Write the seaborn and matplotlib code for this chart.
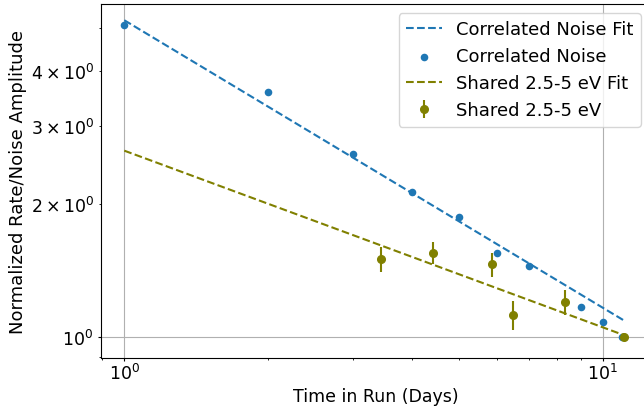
import numpy as np
import pandas as pd
import matplotlib
matplotlib.use("Agg")
import matplotlib.pyplot as plt
import seaborn as sns

# ---- data ----
noise_days = [1.0, 2.0, 3.0, 4.0, 5.0, 6.0, 7.0, 9.0, 10.0, 10.97]
noise_amp = [5.08, 3.58, 2.59, 2.13, 1.87, 1.55, 1.45, 1.17, 1.08, 1.00]

shared_days = [3.43, 4.42, 5.86, 6.49, 8.34, 11.07]
shared_rate = [1.50, 1.55, 1.46, 1.123, 1.20, 1.00]
shared_err = [0.10, 0.09, 0.09, 0.085, 0.077, 0.02]

# power-law fit parameters  y = A * x**b
noise_fit_A, noise_fit_b = 5.21, -0.651
shared_fit_A, shared_fit_b = 2.64, -0.40

labels = ["Correlated Noise Fit", "Correlated Noise",
          "Shared 2.5-5 eV Fit", "Shared 2.5-5 eV"]
blue = "#1f77b4"
olive = "#808000"

plt.rcParams["font.size"] = 13
plt.rcParams["font.family"] = ["DejaVu Sans"]

fig = plt.figure(figsize=(6.44, 4.10), dpi=100)
ax = fig.add_axes([101 / 644, 1 - 359 / 410, (650 - 101) / 644, (359 - 5) / 410])

fit_x = np.array([min(noise_days), max(shared_days)])
fit_df = pd.DataFrame({
    "x": fit_x,
    "noise": noise_fit_A * fit_x ** noise_fit_b,
    "shared": shared_fit_A * fit_x ** shared_fit_b,
})

sns.lineplot(data=fit_df, x="x", y="noise", ax=ax, color=blue, linestyle="--",
             linewidth=1.5, label=labels[0])
sns.scatterplot(x=noise_days, y=noise_amp, ax=ax, color=blue, s=30,
                linewidth=0, label=labels[1])
sns.lineplot(data=fit_df, x="x", y="shared", ax=ax, color=olive, linestyle="--",
             linewidth=1.5, label=labels[2])
ax.errorbar(shared_days, shared_rate, yerr=shared_err, fmt="o", color=olive,
            markersize=5.5, elinewidth=1.5, label=labels[3], zorder=3)

ax.set_xscale("log")
ax.set_yscale("log")
ax.set_xlim(0.894, 12.54)
ax.set_ylim(0.896, 5.67)
ax.grid(True, which="major", color="#b0b0b0", linewidth=0.8)
ax.set_axisbelow(True)

ax.set_xlabel("Time in Run (Days)", fontsize=12.5, labelpad=3)
ax.set_ylabel("Normalized Rate/Noise Amplitude", fontsize=13, labelpad=3)
ax.tick_params(which="major", length=2.3, width=0.8)
ax.tick_params(which="minor", length=1.4, width=0.6)
ax.tick_params(axis="x", which="both", pad=1.2, labelsize=12.5)
ax.tick_params(axis="y", which="both", pad=3.0, labelsize=12.5)

ax.legend(loc="upper right", fontsize=13)

fig.savefig("out.png", dpi=100)
